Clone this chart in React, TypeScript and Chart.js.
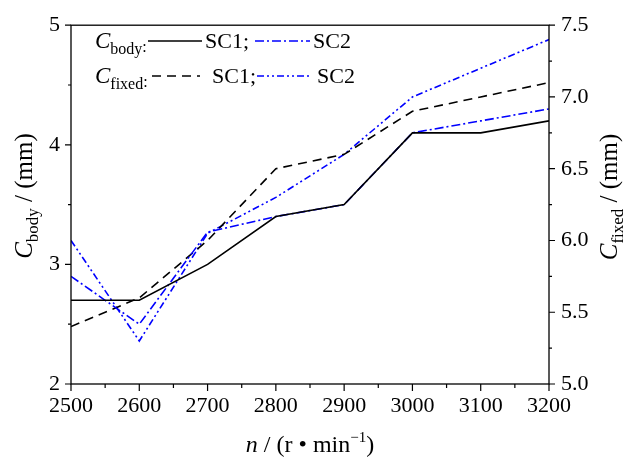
import React, { useEffect, useRef } from "react";
import { Chart, registerables } from "chart.js";

Chart.register(...registerables);

const rpm = [2500, 2600, 2700, 2800, 2900, 3000, 3100, 3200];
const bodySC1 = [2.7, 2.7, 3.0, 3.4, 3.5, 4.1, 4.1, 4.2];
const bodySC2 = [2.9, 2.5, 3.27, 3.4, 3.5, 4.1, 4.2, 4.3];
const fixedSC1 = [5.4, 5.6, 6.0, 6.5, 6.6, 6.9, 7.0, 7.1];
const fixedSC2 = [6.0, 5.3, 6.05, 6.3, 6.6, 7.0, 7.2, 7.4];

const xMajor = [2500, 2600, 2700, 2800, 2900, 3000, 3100, 3200];
const yLeftMajor = [2, 3, 4, 5];
const yRightMajor = [5.0, 5.5, 6.0, 6.5, 7.0, 7.5];

const FONT = "'Liberation Serif', 'Times New Roman', serif";
const BLUE = "#0000ff";
const DASH_DOT = [9, 3, 2, 3];
const DASH = [9, 6];
const DASH_DOT_DOT = [7, 3, 2, 3, 2, 3];

function drawParts(ctx: CanvasRenderingContext2D, parts: { t: string; size: number; italic?: boolean; dy?: number }[], x: number, y: number, align: "left" | "center") {
  let total = 0;
  for (const p of parts) {
    ctx.font = `${p.italic ? "italic " : ""}${p.size}px ${FONT}`;
    total += ctx.measureText(p.t).width;
  }
  let cx = align === "center" ? x - total / 2 : x;
  for (const p of parts) {
    ctx.font = `${p.italic ? "italic " : ""}${p.size}px ${FONT}`;
    ctx.fillText(p.t, cx, y + (p.dy || 0));
    cx += ctx.measureText(p.t).width;
  }
}

const decorPlugin = {
  id: "decor",
  afterDraw(chart: any) {
    const ctx: CanvasRenderingContext2D = chart.ctx;
    const { left, right, top, bottom } = chart.chartArea;
    const xs = chart.scales.x;
    const yl = chart.scales.y;
    const yr = chart.scales.y1;
    ctx.save();
    // frame
    ctx.strokeStyle = "#000";
    ctx.lineWidth = 1.3;
    ctx.strokeRect(left, top, right - left, bottom - top);
    // ticks
    ctx.lineWidth = 1.2;
    ctx.beginPath();
    for (let v = 2500; v <= 3200; v += 50) {
      const px = xs.getPixelForValue(v);
      const len = v % 100 === 0 ? 7 : 4;
      ctx.moveTo(px, bottom);
      ctx.lineTo(px, bottom + len);
    }
    for (let v = 2; v <= 5.001; v += 0.5) {
      const py = yl.getPixelForValue(v);
      const len = Math.abs(v - Math.round(v)) < 1e-6 ? 6 : 3;
      ctx.moveTo(left, py);
      ctx.lineTo(left - len, py);
    }
    for (let v = 5; v <= 7.501; v += 0.25) {
      const py = yr.getPixelForValue(v);
      const len = Math.abs(v * 2 - Math.round(v * 2)) < 1e-6 ? 6 : 3;
      ctx.moveTo(right, py);
      ctx.lineTo(right + len, py);
    }
    ctx.stroke();

    ctx.fillStyle = "#000";
    ctx.textBaseline = "alphabetic";
    // x title
    drawParts(ctx, [
      { t: "n", size: 24, italic: true },
      { t: " / (r • min", size: 24 },
      { t: "−1", size: 15, dy: -10 },
      { t: ")", size: 24 },
    ], (left + right) / 2, 452, "center");
    // left title
    ctx.save();
    ctx.translate(32, 196);
    ctx.rotate(-Math.PI / 2);
    drawParts(ctx, [
      { t: "C", size: 25, italic: true },
      { t: "body", size: 17, dy: 6 },
      { t: " / (mm)", size: 25 },
    ], 0, 0, "center");
    ctx.restore();
    // right title
    ctx.save();
    ctx.translate(617, 197);
    ctx.rotate(-Math.PI / 2);
    drawParts(ctx, [
      { t: "C", size: 25, italic: true },
      { t: "fixed", size: 17, dy: 6 },
      { t: " / (mm)", size: 25 },
    ], 0, 0, "center");
    ctx.restore();

    // legend
    const seg = (x1: number, x2: number, y: number, color: string, dash: number[]) => {
      ctx.save();
      ctx.strokeStyle = color;
      ctx.lineWidth = 1.6;
      ctx.setLineDash(dash);
      ctx.beginPath();
      ctx.moveTo(x1, y);
      ctx.lineTo(x2, y);
      ctx.stroke();
      ctx.restore();
    };
    drawParts(ctx, [
      { t: "C", size: 23, italic: true },
      { t: "body", size: 16, dy: 6 },
      { t: ":", size: 16, dy: 4 },
    ], 95, 48, "left");
    seg(148, 202, 41, "#000", []);
    drawParts(ctx, [{ t: "SC1;", size: 22 }], 205, 48, "left");
    seg(255, 310, 41, BLUE, DASH_DOT);
    drawParts(ctx, [{ t: "SC2", size: 22 }], 313, 48, "left");

    drawParts(ctx, [
      { t: "C", size: 23, italic: true },
      { t: "fixed", size: 16, dy: 6 },
      { t: ":", size: 16, dy: 4 },
    ], 95, 83, "left");
    seg(152, 200, 76, "#000", DASH);
    drawParts(ctx, [{ t: "SC1;", size: 22 }], 212, 83, "left");
    seg(257, 310, 76, BLUE, DASH_DOT_DOT);
    drawParts(ctx, [{ t: "SC2", size: 22 }], 317, 83, "left");
    ctx.restore();
  },
};

export default function App() {
  const ref = useRef<HTMLCanvasElement>(null);
  useEffect(() => {
    const mk = (vals: number[]) => rpm.map((x, i) => ({ x, y: vals[i] }));
    const base = { pointRadius: 0, borderWidth: 1.6, tension: 0, fill: false };
    const tickFont = { family: FONT, size: 22 };
    const chart = new Chart(ref.current!, {
      type: "line",
      data: {
        datasets: [
          { ...base, label: "Cbody SC1", data: mk(bodySC1), yAxisID: "y", borderColor: "#000" },
          { ...base, label: "Cbody SC2", data: mk(bodySC2), yAxisID: "y", borderColor: BLUE, borderDash: DASH_DOT },
          { ...base, label: "Cfixed SC1", data: mk(fixedSC1), yAxisID: "y1", borderColor: "#000", borderDash: DASH },
          { ...base, label: "Cfixed SC2", data: mk(fixedSC2), yAxisID: "y1", borderColor: BLUE, borderDash: DASH_DOT_DOT },
        ],
      } as any,
      options: {
        responsive: false,
        animation: false,
        layout: { padding: { top: 20, left: 0, right: 0, bottom: 0 } },
        plugins: { legend: { display: false }, tooltip: { enabled: false } },
        scales: {
          x: {
            type: "linear",
            min: 2500,
            max: 3200,
            afterBuildTicks: (s: any) => { s.ticks = xMajor.map((v) => ({ value: v })); },
            afterFit: (s: any) => { s.height = 79; },
            grid: { display: false, drawTicks: false },
            border: { display: false },
            ticks: { font: tickFont, color: "#000", padding: 9, maxRotation: 0, autoSkip: false, callback: (v: any) => String(v) },
          },
          y: {
            type: "linear",
            position: "left",
            min: 2,
            max: 5,
            afterBuildTicks: (s: any) => { s.ticks = yLeftMajor.map((v) => ({ value: v })); },
            afterFit: (s: any) => { s.width = 71; },
            grid: { display: false, drawTicks: false },
            border: { display: false },
            ticks: { font: tickFont, color: "#000", padding: 11, callback: (v: any) => String(v) },
          },
          y1: {
            type: "linear",
            position: "right",
            min: 5,
            max: 7.5,
            afterBuildTicks: (s: any) => { s.ticks = yRightMajor.map((v) => ({ value: v })); },
            afterFit: (s: any) => { s.width = 75; },
            grid: { display: false, drawTicks: false },
            border: { display: false },
            ticks: { font: tickFont, color: "#000", padding: 12, callback: (v: any) => Number(v).toFixed(1) },
          },
        },
      } as any,
      plugins: [decorPlugin],
    });
    return () => chart.destroy();
  }, []);
  return (
    <div style={{ position: "absolute", left: 0, top: 0, width: 624, height: 463, background: "#fff" }}>
      <canvas ref={ref} width={624} height={463} style={{ display: "block" }} />
    </div>
  );
}
